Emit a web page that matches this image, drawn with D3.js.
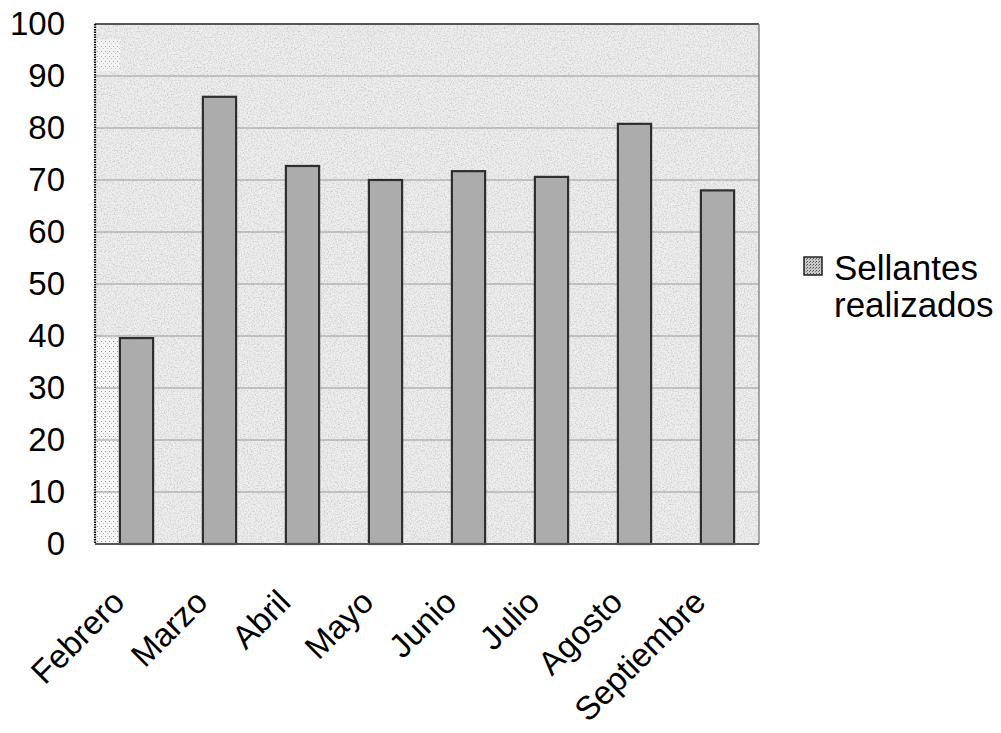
<!DOCTYPE html>
<html>
<head>
<meta charset="utf-8">
<script src="https://cdn.jsdelivr.net/npm/d3@7"></script>
<style>
  html, body { margin: 0; padding: 0; background: #fff; }
  svg { display: block; }
  text { font-family: "Liberation Sans", Arial, sans-serif; fill: #000; }
</style>
</head>
<body>
<svg id="chart" width="1001" height="733"></svg>
<script>
// Monthly count of sealants applied
const months = ["Febrero", "Marzo", "Abril", "Mayo", "Junio", "Julio", "Agosto", "Septiembre"];
const sellantes = [39.6, 86, 72.7, 70, 71.7, 70.6, 80.8, 68];
const yTicks = [0, 10, 20, 30, 40, 50, 60, 70, 80, 90, 100];
const seriesName = ["Sellantes", "realizados"];

const svg = d3.select("#chart");
const plot = { left: 95, right: 759, top: 24, bottom: 544 };

const x = d3.scaleBand()
  .domain(months)
  .range([plot.left, plot.right])
  .paddingInner(0.6)
  .paddingOuter(0.3);

const y = d3.scaleLinear()
  .domain([0, 100])
  .range([plot.bottom, plot.top]);

// Patterns: grainy plot wall and stippled legend key
const defs = svg.append("defs");
const grain = defs.append("filter").attr("id", "grain")
  .attr("x", 0).attr("y", 0).attr("width", 1).attr("height", 1);
grain.append("feTurbulence").attr("type", "fractalNoise")
  .attr("baseFrequency", 0.7).attr("numOctaves", 2).attr("seed", 3).attr("result", "n");
grain.append("feColorMatrix").attr("in", "n").attr("type", "matrix")
  .attr("values", "0 0 0 0 0  0 0 0 0 0  0 0 0 0 0  0 0 0 -1.4 0.8")
  .attr("result", "a");
grain.append("feComposite").attr("in", "a").attr("in2", "SourceGraphic").attr("operator", "in");

const stip = defs.append("pattern").attr("id", "stipple")
  .attr("width", 3).attr("height", 3).attr("patternUnits", "userSpaceOnUse");
stip.append("rect").attr("width", 3).attr("height", 3).attr("fill", "#c8c8c8");
stip.append("rect").attr("width", 1).attr("height", 1).attr("fill", "#555");
stip.append("rect").attr("x", 2).attr("y", 1).attr("width", 1).attr("height", 1).attr("fill", "#777");

const dots = defs.append("pattern").attr("id", "dots")
  .attr("width", 4).attr("height", 5).attr("patternUnits", "userSpaceOnUse");
dots.append("rect").attr("width", 4).attr("height", 5).attr("fill", "#f6f6f6");
dots.append("rect").attr("x", 1).attr("y", 1).attr("width", 1).attr("height", 1).attr("fill", "#9a9a9a");
dots.append("rect").attr("x", 3).attr("y", 3).attr("width", 1).attr("height", 1).attr("fill", "#c0c0c0");

// Plot background
svg.append("rect")
  .attr("x", plot.left).attr("y", plot.top)
  .attr("width", plot.right - plot.left).attr("height", plot.bottom - plot.top)
  .attr("fill", "#eeeeee");
svg.append("rect")
  .attr("x", plot.left).attr("y", plot.top)
  .attr("width", plot.right - plot.left).attr("height", plot.bottom - plot.top)
  .attr("fill", "#d6d6d6").attr("filter", "url(#grain)").attr("opacity", 0.25);

// Dotted strip along the left wall
svg.append("rect")
  .attr("x", plot.left).attr("y", y(sellantes[0]))
  .attr("width", x(months[0]) - plot.left).attr("height", plot.bottom - y(sellantes[0]))
  .attr("fill", "url(#dots)");
svg.append("rect")
  .attr("x", plot.left).attr("y", y(97))
  .attr("width", x(months[0]) - plot.left).attr("height", y(91) - y(97))
  .attr("fill", "url(#dots)").attr("opacity", 0.8);

// Gridlines
svg.append("g")
  .selectAll("line")
  .data(yTicks.filter(d => d > 0 && d < 100))
  .join("line")
  .attr("x1", plot.left).attr("x2", plot.right)
  .attr("y1", d => y(d)).attr("y2", d => y(d))
  .attr("stroke", "#999").attr("stroke-width", 1.2);

// Bars
svg.append("g")
  .selectAll("rect")
  .data(months.map((m, i) => ({ m, v: sellantes[i] })))
  .join("rect")
  .attr("x", d => x(d.m))
  .attr("y", d => y(d.v))
  .attr("width", x.bandwidth())
  .attr("height", d => y(0) - y(d.v))
  .attr("fill", "#acacac")
  .attr("stroke", "#2e2e2e")
  .attr("stroke-width", 2.2);

// Frame
svg.append("line").attr("x1", plot.left).attr("x2", plot.right)
  .attr("y1", plot.top).attr("y2", plot.top)
  .attr("stroke", "#555").attr("stroke-width", 2);
svg.append("line").attr("x1", plot.right).attr("x2", plot.right)
  .attr("y1", plot.top).attr("y2", plot.bottom)
  .attr("stroke", "#888").attr("stroke-width", 1.5);
svg.append("line").attr("x1", plot.left).attr("x2", plot.right)
  .attr("y1", plot.bottom).attr("y2", plot.bottom)
  .attr("stroke", "#555").attr("stroke-width", 2);
svg.append("line").attr("x1", plot.left).attr("x2", plot.left)
  .attr("y1", plot.top).attr("y2", plot.bottom)
  .attr("stroke", "#111").attr("stroke-width", 2.2)
  .attr("stroke-dasharray", "1.5,1");

// Y axis labels
const yAxis = d3.axisLeft(y).tickValues(yTicks).tickSize(0).tickPadding(30);
svg.append("g")
  .attr("transform", `translate(${plot.left},0)`)
  .call(yAxis)
  .call(g => g.select(".domain").remove())
  .call(g => g.selectAll("text")
    .attr("font-size", 33)
    .attr("font-family", "Liberation Sans, Arial, sans-serif")
    .attr("fill", "#000")
    .attr("dy", "0.33em"));

// X axis labels, rotated
const xAxis = d3.axisBottom(x).tickSize(0).tickPadding(0);
svg.append("g")
  .attr("transform", `translate(0,${plot.bottom})`)
  .call(xAxis)
  .call(g => g.select(".domain").remove())
  .call(g => g.selectAll("text")
    .attr("font-size", 33)
    .attr("font-family", "Liberation Sans, Arial, sans-serif")
    .attr("fill", "#000")
    .attr("text-anchor", "end")
    .attr("dy", 0)
    .attr("y", 0)
    .attr("transform", "translate(-10,60) rotate(-45)"));

// Legend
const legend = svg.append("g");
legend.append("rect")
  .attr("x", 804).attr("y", 257).attr("width", 18).attr("height", 18)
  .attr("fill", "url(#stipple)").attr("stroke", "#222").attr("stroke-width", 1.5);
legend.append("text")
  .attr("x", 834).attr("y", 280)
  .attr("font-size", 35)
  .selectAll("tspan")
  .data(seriesName)
  .join("tspan")
  .attr("x", 834)
  .attr("dy", (d, i) => i === 0 ? 0 : 37)
  .text(d => d);
</script>
</body>
</html>
